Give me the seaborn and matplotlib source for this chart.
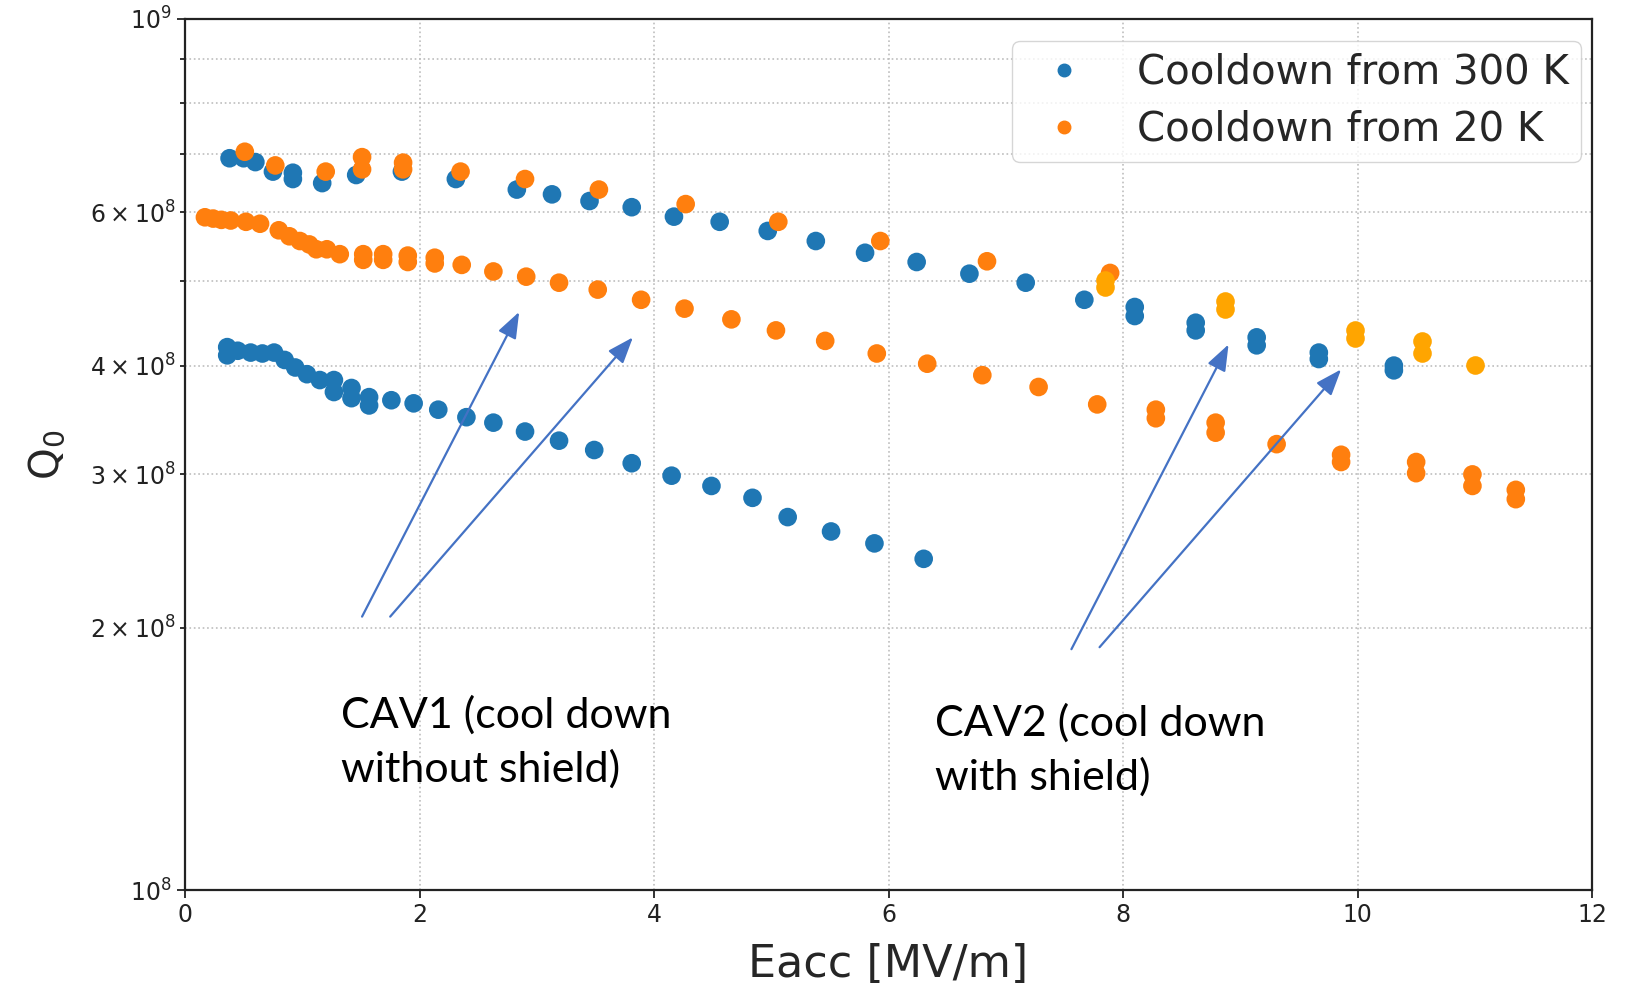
import numpy as np
import pandas as pd
import matplotlib
matplotlib.use("Agg")
import matplotlib.pyplot as plt
import seaborn as sns
from matplotlib.lines import Line2D

# ---- Measured Q0 vs. accelerating gradient (Q0 in units of 1e8) ----
# CAV1, cooldown from 300 K
cav1_300k_eacc = [0.36, 0.36, 0.45, 0.56, 0.66, 0.76, 0.85, 0.94, 1.04, 1.15,
                  1.27, 1.27, 1.42, 1.42, 1.57, 1.57, 1.76, 1.95, 2.16, 2.40,
                  2.63, 2.90, 3.19, 3.49, 3.81, 4.15, 4.49, 4.84, 5.14, 5.51,
                  5.88, 6.30]
cav1_300k_q0 = [4.20, 4.11, 4.16, 4.14, 4.13, 4.14, 4.06, 3.98, 3.91, 3.85,
                3.85, 3.73, 3.77, 3.67, 3.68, 3.60, 3.65, 3.62, 3.56, 3.49,
                3.44, 3.36, 3.28, 3.20, 3.09, 2.99, 2.91, 2.82, 2.68, 2.58,
                2.50, 2.40]

# CAV2, cooldown from 300 K
cav2_300k_eacc = [0.38, 0.50, 0.60, 0.75, 0.92, 0.92, 1.17, 1.46, 1.85, 2.31,
                  2.83, 3.13, 3.45, 3.81, 4.17, 4.56, 4.97, 5.38, 5.80, 6.24,
                  6.69, 7.17, 7.67, 8.10, 8.10, 8.62, 8.62, 9.14, 9.14, 9.67,
                  9.67, 10.31, 10.31]
cav2_300k_q0 = [6.92, 6.92, 6.85, 6.68, 6.66, 6.55, 6.48, 6.62, 6.68, 6.55,
                6.37, 6.29, 6.18, 6.08, 5.93, 5.85, 5.71, 5.56, 5.39, 5.26,
                5.10, 4.98, 4.76, 4.67, 4.56, 4.48, 4.39, 4.31, 4.22, 4.14,
                4.07, 4.00, 3.95]

# CAV1, cooldown from 20 K
cav1_20k_eacc = [0.17, 0.24, 0.31, 0.39, 0.52, 0.64, 0.80, 0.89, 0.98, 1.06,
                 1.12, 1.21, 1.32, 1.52, 1.52, 1.69, 1.69, 1.90, 1.90, 2.13,
                 2.13, 2.36, 2.63, 2.91, 3.19, 3.52, 3.89, 4.26, 4.66, 5.04,
                 5.46, 5.90, 6.33, 6.80, 7.28, 7.78, 8.28, 8.28, 8.79, 8.79,
                 9.31, 9.86, 9.86, 10.50, 10.50, 10.98, 10.98, 11.35, 11.35]
cav1_20k_q0 = [5.92, 5.90, 5.88, 5.87, 5.85, 5.82, 5.72, 5.63, 5.56, 5.51,
               5.44, 5.44, 5.37, 5.37, 5.29, 5.37, 5.29, 5.35, 5.26, 5.32,
               5.24, 5.22, 5.13, 5.06, 4.98, 4.89, 4.76, 4.65, 4.52, 4.39,
               4.27, 4.13, 4.02, 3.90, 3.78, 3.61, 3.56, 3.48, 3.44, 3.35,
               3.25, 3.16, 3.10, 3.10, 3.01, 3.00, 2.91, 2.88, 2.81]

# CAV2, cooldown from 20 K (first run)
cav2_20k_eacc = [0.51, 0.77, 1.20, 1.51, 1.51, 1.86, 1.86, 2.35, 2.90, 3.53,
                 4.27, 5.06, 5.93, 6.84, 7.89]
cav2_20k_q0 = [7.04, 6.79, 6.68, 6.94, 6.72, 6.84, 6.72, 6.68, 6.55, 6.37,
               6.13, 5.85, 5.56, 5.27, 5.11]

# CAV2, cooldown from 20 K (high-field run)
cav2_20k_hf_eacc = [7.85, 7.85, 8.87, 8.87, 9.98, 9.98, 10.55, 10.55, 11.00]
cav2_20k_hf_q0 = [5.02, 4.93, 4.74, 4.65, 4.39, 4.30, 4.27, 4.13, 4.01]

legend_labels = ["Cooldown from 300 K", "Cooldown from 20 K"]
x_ticks = [0, 2, 4, 6, 8, 10, 12]

# ---- style ----
sns.set_style("ticks")
plt.rcParams["font.family"] = ["DejaVu Sans"]
plt.rcParams["mathtext.fontset"] = "dejavusans"

c300 = "#1f77b4"
c20 = "#ff7f0e"
c20_hf = "#ffa500"
palette = {legend_labels[0]: c300, legend_labels[1]: c20}

def frame(eacc, q0, label):
    return pd.DataFrame({"Eacc": eacc,
                         "Q0": np.asarray(q0) * 1e8,
                         "Cooldown": label})

df = pd.concat([
    frame(cav1_300k_eacc, cav1_300k_q0, legend_labels[0]),
    frame(cav2_300k_eacc, cav2_300k_q0, legend_labels[0]),
    frame(cav1_20k_eacc, cav1_20k_q0, legend_labels[1]),
    frame(cav2_20k_eacc, cav2_20k_q0, legend_labels[1]),
], ignore_index=True)
df_hf = frame(cav2_20k_hf_eacc, cav2_20k_hf_q0, legend_labels[1])

fig = plt.figure(figsize=(16.3, 9.83), dpi=100)
ax = fig.add_axes([0.1135, 0.0946, 0.8632, 0.8861])

sns.scatterplot(data=df, x="Eacc", y="Q0", hue="Cooldown", palette=palette,
                s=180, linewidth=0, legend=False, ax=ax, zorder=3)
sns.scatterplot(data=df_hf, x="Eacc", y="Q0", color=c20_hf,
                s=180, linewidth=0, legend=False, ax=ax, zorder=3)

ax.set_yscale("log")
ax.set_ylim(1e8, 1e9)
ax.set_xlim(0, 12)
ax.set_xticks(x_ticks)

ax.grid(True, which="major", axis="x", ls=":", color="#bdbdbd", lw=1.2)
ax.grid(True, which="both", axis="y", ls=":", color="#bdbdbd", lw=1.2)
ax.set_axisbelow(True)

for sp in ax.spines.values():
    sp.set_visible(True)
    sp.set_color("#222222")
    sp.set_linewidth(1.6)

ax.tick_params(which="both", labelsize=17, direction="out", color="#222222",
               width=1.3, labelcolor="#222222")
ax.tick_params(which="major", length=6)
ax.tick_params(which="minor", length=3.5)

ax.set_xlabel("Eacc [MV/m]", fontsize=32, labelpad=11)
ax.set_ylabel("Q$_0$", fontsize=29, labelpad=16)

handles = [Line2D([], [], ls="", marker="o", ms=9, mfc=c, mec=c)
           for c in (c300, c20)]
ax.legend(handles, legend_labels, loc="upper right",
          bbox_to_anchor=(0.992, 0.975), borderaxespad=0.0,
          fontsize=29, frameon=True, framealpha=0.8, edgecolor="0.8",
          fancybox=True, labelspacing=0.42, borderpad=0.3)

# ---- annotations ----
arrow_kw = dict(arrowstyle="-|>,head_length=0.8,head_width=0.3",
                color="#4472c4", lw=1.6, mutation_scale=20,
                shrinkA=0, shrinkB=0)
for tail, tip in [((1.51, 2.06e8), (2.85, 4.61e8)),
                  ((1.75, 2.06e8), (3.82, 4.31e8)),
                  ((7.56, 1.89e8), (8.90, 4.23e8)),
                  ((7.80, 1.90e8), (9.86, 3.96e8))]:
    ax.annotate("", xy=tip, xytext=tail, arrowprops=arrow_kw, zorder=4)

ax.text(1.33, 1.675e8, "CAV1 (cool down\nwithout shield)", fontsize=31,
        family=["Lato", "DejaVu Sans"], color="black",
        va="top", ha="left", linespacing=1.45)
ax.text(6.40, 1.638e8, "CAV2 (cool down\nwith shield)", fontsize=31,
        family=["Lato", "DejaVu Sans"], color="black",
        va="top", ha="left", linespacing=1.45)

fig.savefig("out.png", dpi=100)
